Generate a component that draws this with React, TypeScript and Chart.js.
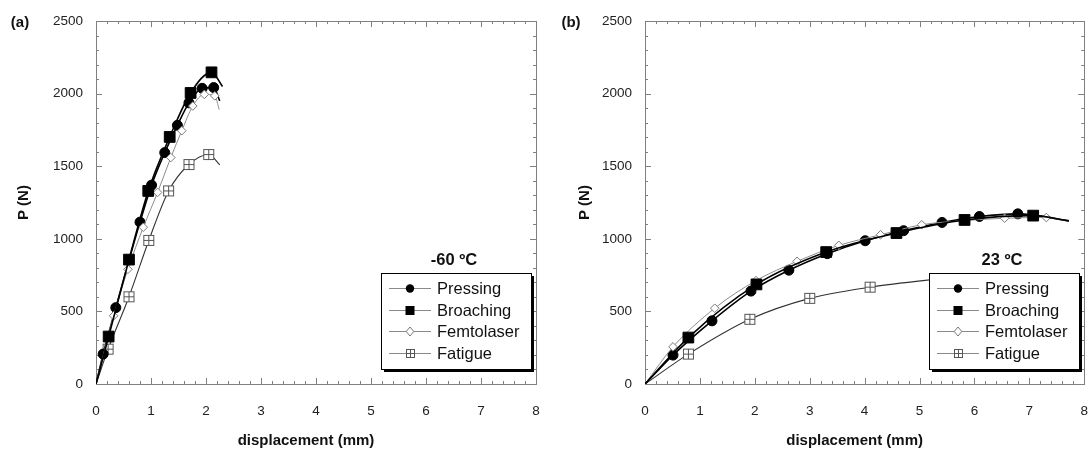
import React, { useEffect, useRef } from "react";
import { Chart, registerables } from "chart.js";
Chart.register(...registerables);

const FONT = "'Liberation Sans', Arial, Helvetica, sans-serif";

// ---------- tick labels ----------
const xTicks = [0, 1, 2, 3, 4, 5, 6, 7, 8];
const yTicks = [0, 500, 1000, 1500, 2000, 2500];
const xMinorStep = 0.2;
const yMinorStep = 100;

const seriesNames = ["Pressing", "Broaching", "Femtolaser", "Fatigue"];

// ---------- panel (a): -60 ºC ----------
const aPressingX = [0, 0.13, 0.36, 0.8, 1.01, 1.25, 1.48, 1.69, 1.93, 2.14, 2.25];
const aPressingY = [0, 206, 526, 1115, 1370, 1594, 1782, 1937, 2037, 2042, 1950];
const aBroachingX = [0, 0.23, 0.6, 0.95, 1.34, 1.72, 2.1, 2.3];
const aBroachingY = [0, 327, 857, 1330, 1702, 2005, 2147, 2050];
const aFemtoX = [0, 0.32, 0.58, 0.86, 1.12, 1.36, 1.56, 1.76, 1.97, 2.16, 2.24];
const aFemtoY = [0, 470, 790, 1080, 1320, 1560, 1745, 1915, 1995, 1985, 1890];
const aFatigueX = [0, 0.22, 0.6, 0.96, 1.32, 1.69, 2.05, 2.25];
const aFatigueY = [0, 240, 601, 989, 1330, 1512, 1581, 1510];

// ---------- panel (b): 23 ºC ----------
const bPressingX = [0, 0.51, 1.22, 1.93, 2.62, 3.32, 4.01, 4.71, 5.41, 6.09, 6.79, 7.72];
const bPressingY = [0, 199, 435, 640, 784, 898, 987, 1056, 1113, 1154, 1172, 1124];
const bBroachingX = [0, 0.79, 2.03, 3.3, 4.58, 5.82, 7.07, 7.72];
const bBroachingY = [0, 320, 686, 909, 1040, 1130, 1160, 1124];
const bFemtoX = [0, 0.51, 1.27, 2.02, 2.77, 3.53, 4.29, 5.04, 5.8, 6.55, 7.31, 7.72];
const bFemtoY = [0, 256, 522, 712, 845, 955, 1028, 1097, 1125, 1142, 1147, 1124];
const bFatigueX = [0, 0.79, 1.91, 3.0, 4.1, 5.6];
const bFatigueY = [0, 206, 446, 590, 667, 735];

function makeFatigueMarker(size: number, color: string) {
  const c = document.createElement("canvas");
  c.width = size + 2;
  c.height = size + 2;
  const g = c.getContext("2d")!;
  const o = 1.5;
  const s = size - 1;
  g.fillStyle = "#fff";
  g.fillRect(o, o, s, s);
  g.strokeStyle = color;
  g.lineWidth = 1;
  g.strokeRect(o, o, s, s);
  const m = o + s / 2;
  g.beginPath();
  g.moveTo(m, o);
  g.lineTo(m, o + s);
  g.moveTo(o, m);
  g.lineTo(o + s, m);
  g.stroke();
  return c;
}

function series(label: string, xs: number[], ys: number[], st: any) {
  const n = xs.length;
  return {
    label,
    data: xs.map((x, i) => ({ x, y: ys[i] })),
    borderColor: st.line,
    borderWidth: st.lw,
    pointStyle: st.ps,
    pointRadius: (c: any) => (c.dataIndex === 0 || c.dataIndex === n - 1 ? 0 : st.r),
    pointHoverRadius: 0,
    pointBackgroundColor: st.fill,
    pointBorderColor: st.stroke,
    pointBorderWidth: 1,
    cubicInterpolationMode: "monotone",
    fill: false,
  };
}

const framePlugin = {
  id: "frame",
  beforeDatasetsDraw(chart: any) {
    const { ctx, chartArea, scales } = chart;
    const { left, right, top, bottom } = chartArea;
    ctx.save();
    ctx.strokeStyle = "#808080";
    ctx.lineWidth = 1;
    ctx.strokeRect(Math.round(left) + 0.5, Math.round(top) + 0.5, Math.round(right - left), Math.round(bottom - top));
    ctx.beginPath();
    const xMax = xTicks[xTicks.length - 1];
    const nx = Math.round(xMax / xMinorStep);
    for (let i = 0; i <= nx; i++) {
      const v = i * xMinorStep;
      const major = Math.abs(v - Math.round(v)) < 1e-6;
      const len = major ? 6 : 3;
      const px = Math.round(scales.x.getPixelForValue(v)) + 0.5;
      ctx.moveTo(px, bottom);
      ctx.lineTo(px, bottom - len);
      ctx.moveTo(px, top);
      ctx.lineTo(px, top + len);
    }
    const yMax = yTicks[yTicks.length - 1];
    const ny = Math.round(yMax / yMinorStep);
    for (let i = 0; i <= ny; i++) {
      const v = i * yMinorStep;
      const major = v % 500 === 0;
      const len = major ? 6 : 3;
      const py = Math.round(scales.y.getPixelForValue(v)) + 0.5;
      ctx.moveTo(left, py);
      ctx.lineTo(left + len, py);
      ctx.moveTo(right, py);
      ctx.lineTo(right - len, py);
    }
    ctx.stroke();
    ctx.restore();
  },
  afterDraw(chart: any) {
    const o = chart.options.plugins.frame;
    if (!o) return;
    const { ctx, chartArea } = chart;
    ctx.save();
    // panel tag
    ctx.fillStyle = "#111";
    ctx.font = `bold 15px ${FONT}`;
    ctx.textAlign = "center";
    ctx.textBaseline = "middle";
    ctx.fillText(o.tag, o.tagX, 23);

    // x axis title
    ctx.font = `bold 15px ${FONT}`;
    ctx.fillText(o.xTitle, (chartArea.left + chartArea.right) / 2 - 10, 441);

    // legend box
    const W = 150;
    const H = 96;
    const R = chartArea.right - 5;
    const B = chartArea.bottom - 15.5;
    const L = Math.round(R - W);
    const T = Math.round(B - H);
    ctx.fillStyle = "#000";
    ctx.fillRect(L + 3, T + 3, W, H);
    ctx.fillStyle = "#fff";
    ctx.fillRect(L, T, W, H);
    ctx.strokeStyle = "#000";
    ctx.lineWidth = 1;
    ctx.strokeRect(L + 0.5, T + 0.5, W, H);

    // temperature label
    ctx.fillStyle = "#111";
    ctx.font = `bold 16.5px ${FONT}`;
    ctx.textAlign = "center";
    ctx.fillText(o.temp, L + W / 2 - 2, T - 13);

    const rows = [15, 37, 58, 80];
    const fat = makeFatigueMarker(9, "#555");
    seriesNames.forEach((name, i) => {
      const y = T + rows[i] + 0.5;
      ctx.strokeStyle = "#8a8a8a";
      ctx.lineWidth = 1;
      ctx.beginPath();
      ctx.moveTo(L + 8, y);
      ctx.lineTo(L + 50, y);
      ctx.stroke();
      const mx = L + 29;
      if (i === 0) {
        ctx.fillStyle = "#000";
        ctx.beginPath();
        ctx.arc(mx, y, 4.2, 0, Math.PI * 2);
        ctx.fill();
      } else if (i === 1) {
        ctx.fillStyle = "#000";
        ctx.fillRect(mx - 4.5, y - 4.5, 9, 9);
      } else if (i === 2) {
        ctx.fillStyle = "#fff";
        ctx.strokeStyle = "#777";
        ctx.beginPath();
        ctx.moveTo(mx, y - 4.5);
        ctx.lineTo(mx + 3.8, y);
        ctx.lineTo(mx, y + 4.5);
        ctx.lineTo(mx - 3.8, y);
        ctx.closePath();
        ctx.fill();
        ctx.stroke();
      } else {
        ctx.drawImage(fat, Math.round(mx - fat.width / 2), Math.round(y - fat.height / 2));
      }
      ctx.fillStyle = "#111";
      ctx.font = `16.5px ${FONT}`;
      ctx.textAlign = "left";
      ctx.textBaseline = "middle";
      ctx.fillText(name, L + 56, y + 1);
    });
    ctx.restore();
  },
};

type PanelCfg = {
  left: number;
  width: number;
  axisW: number;
  rightPad: number;
  yTitlePad: number;
  tag: string;
  tagX: number;
  temp: string;
  data: { x: number[]; y: number[] }[];
};

function Panel({ cfg }: { cfg: PanelCfg }) {
  const ref = useRef<HTMLCanvasElement>(null);
  useEffect(() => {
    const fatigue = makeFatigueMarker(11, "#555");
    const styles = [
      { line: "#000", lw: 1.6, ps: "circle", r: 5, fill: "#000", stroke: "#000" },
      { line: "#000", lw: 1.6, ps: "rect", r: 7.6, fill: "#000", stroke: "#000" },
      { line: "#8c8c8c", lw: 1, ps: "rectRot", r: 4.3, fill: "#fff", stroke: "#7a7a7a" },
      { line: "#333", lw: 1.1, ps: fatigue, r: 6, fill: "#fff", stroke: "#555" },
    ];
    const ds = seriesNames.map((n, i) => series(n, cfg.data[i].x, cfg.data[i].y, styles[i]));
    // draw order (first = on top): Broaching, Femtolaser, Pressing, Fatigue
    const datasets = [ds[1], ds[2], ds[0], ds[3]];
    const chart = new Chart(ref.current!, {
      type: "line",
      data: { datasets: datasets as any },
      plugins: [framePlugin],
      options: {
        animation: false,
        responsive: false,
        devicePixelRatio: 1,
        layout: { padding: { left: 0, right: cfg.rightPad, top: 19, bottom: 0 } },
        plugins: {
          legend: { display: false },
          tooltip: { enabled: false },
          frame: { tag: cfg.tag, tagX: cfg.tagX, temp: cfg.temp, xTitle: "displacement (mm)" },
        } as any,
        scales: {
          x: {
            type: "linear",
            min: 0,
            max: 8,
            afterFit: (s: any) => {
              s.height = 70;
            },
            afterBuildTicks: (s: any) => {
              s.ticks = xTicks.map((v) => ({ value: v }));
            },
            grid: { display: false, drawTicks: false },
            border: { display: false },
            ticks: {
              padding: 2,
              color: "#222",
              font: { family: FONT, size: 13.5, lineHeight: "50px" },
              maxRotation: 0,
              autoSkip: false,
              callback: (v: any) => String(v),
            },
            title: { display: false },
          },
          y: {
            type: "linear",
            min: 0,
            max: 2500,
            afterFit: (s: any) => {
              s.width = cfg.axisW;
            },
            afterBuildTicks: (s: any) => {
              s.ticks = yTicks.map((v) => ({ value: v }));
            },
            grid: { display: false, drawTicks: false },
            border: { display: false },
            ticks: {
              padding: 13,
              color: "#222",
              font: { family: FONT, size: 13.5 },
              autoSkip: false,
              callback: (v: any) => String(v),
            },
            title: {
              display: true,
              text: "P (N)",
              color: "#111",
              font: { family: FONT, size: 15, weight: "bold" },
              padding: { top: cfg.yTitlePad, bottom: 0 },
            },
          },
        },
      } as any,
    });
    return () => chart.destroy();
  }, [cfg]);
  return (
    <div style={{ position: "absolute", left: cfg.left, top: 0, width: cfg.width, height: 454 }}>
      <canvas ref={ref} width={cfg.width} height={454} style={{ display: "block" }} />
    </div>
  );
}

const panelA: PanelCfg = {
  left: 0,
  width: 545,
  axisW: 96,
  rightPad: 9,
  yTitlePad: 14.5,
  tag: "(a)",
  tagX: 20,
  temp: "-60 ºC",
  data: [
    { x: aPressingX, y: aPressingY },
    { x: aBroachingX, y: aBroachingY },
    { x: aFemtoX, y: aFemtoY },
    { x: aFatigueX, y: aFatigueY },
  ],
};

const panelB: PanelCfg = {
  left: 545,
  width: 545,
  axisW: 100,
  rightPad: 5,
  yTitlePad: 31,
  tag: "(b)",
  tagX: 26,
  temp: "23 ºC",
  data: [
    { x: bPressingX, y: bPressingY },
    { x: bBroachingX, y: bBroachingY },
    { x: bFemtoX, y: bFemtoY },
    { x: bFatigueX, y: bFatigueY },
  ],
};

export default function App() {
  return (
    <div style={{ position: "fixed", left: 0, top: 0, width: 1090, height: 454, background: "#fff", overflow: "hidden" }}>
      <Panel cfg={panelA} />
      <Panel cfg={panelB} />
    </div>
  );
}
